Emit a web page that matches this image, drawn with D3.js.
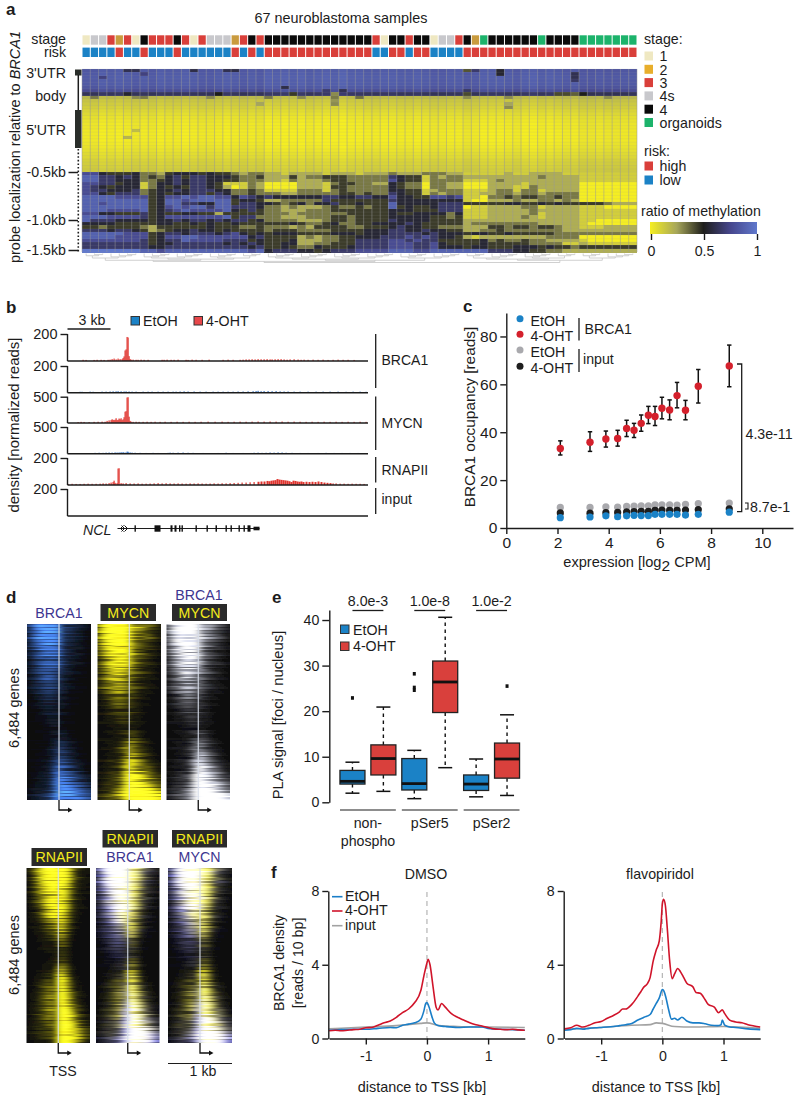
<!DOCTYPE html>
<html><head><meta charset="utf-8">
<script src="https://cdn.jsdelivr.net/npm/d3@7/dist/d3.min.js"></script>
<style>html,body{margin:0;padding:0;background:#fff}svg{display:block}text{font-family:"Liberation Sans",Arial,sans-serif;fill:#1c1c1c}</style>
</head><body><div id="c"></div>
<script>
// ---------- panel a data ----------
const stageCols=["1","4s","4s","3","2","3","1","4","3","3","3","4","3","1","3","4s","4s","4s","2","3","4","3","4","4","4","4","4","4","4","4","4","4","4","4","4","3","1","4","4","3","4","4","1","4s","4s","3","4","2","o","4","4","4","4","4","4","o","4","4","4","4","o","o","o","o","o","o","o"];
const riskCols="LLLLHLLHLLLHLLLLLLHLHLHHHHHHHHHHHHHLLHHLHHLLLLHHHHHHHHHHHHHHHHHHHHH".split("");
const blueRowBase=[.86,.87,.88,.87,.87,.85,.8,.66];
const yellowRowBase=[.17,.13,.11,.09,.07,.05,.03,.02,.01,.01,0,0,0,0,.01,.02,.03,.05,.06,.08,.09,.1,.11];
const colDrift=[.02,.02,0,.01,0,.01,.02,.01,.02,0,.01,.01,0,.01,.02,.02,.01,0,.01,.02,.01,.02,-.01,0,-.01,0,-.01,.01,0,-.01,0,-.02,0,0,.01,.01,0,0,.01,.01,0,.01,.02,.02,.01,.01,.03,.02,0,0,0,.01,.02,0,-.01,.01,0,.01,.02,.01,.03,.03,.02,.03,.03,.02,.02];
const upperExceptions=[[5,0,.62],[6,0,.62],[13,0,.6],[17,0,.62],[18,0,.6],[46,0,.4],[47,0,.68],[50,0,.55],[50,1,.55],[59,1,.62],[59,2,.62],[59,3,.66],[7,1,.72],[2,2,.72],[24,5,.6],[30,7,.3],[25,7,.45],[16,7,.5],[5,7,.55],[46,7,.42],[46,6,.66],[31,6,.62],[29,6,.68],[58,7,.42],[57,7,.42],[59,7,.38],[60,7,.5],[1,8,.33],[6,8,.3],[7,8,.33],[15,8,.3],[22,8,.33],[26,8,.3],[30,8,.33],[33,8,.35],[46,8,.3],[51,8,.3],[63,8,.3],[30,9,.28],[30,10,.3],[21,10,.25],[51,10,.25],[51,11,.3],[6,18,.17],[5,20,.2]];
const lowerRows=[
"7754445 332455545443233 2212222122212 22322233322 11111211222211 1111111",
"8866565 343564665554334 2224233444333 33654413233 22222222232222 1111111",
"8866555 334565665544333 2213222344333 33754413333 11123222222222 1111111",
"7766455 135565665411132 0000222134433 22543303322 00022221222222 0000000",
"7654555 135454665420132 0000222144333 33543303322 00022211322222 0000000",
"7665556 345565666553343 1111333134333 33554412333 11123313312222 0000000",
"7754666 345455664653343 3322333334434 33654413233 11223323323333 0000000",
"8888777 745778788775765 6555555665566 55755447767 11033434433433 0000000",
"8888888 845887888884554 2233333644444 44655555555 10022232233232 0000000",
"8878888 845886655884665 5434535564454 44855555666 44444554454544 4443222",
"8888888 845787886886665 3323222343343 44845445666 01122223312222 1110000",
"8887777 845678777785464 3322233344444 44555444666 11122222322222 1111111",
"7755444 645445544244444 3332333333444 44544555535 11122222312222 1111111",
"8887777 645777777784663 3322233344344 44555554434 11122223212222 1111111",
"8666555 545565665656645 3333222344344 44655554444 22222222222222 1100000",
"5555444 445544545445444 4445433453344 55556544444 23333333322222 1000000",
"4434444 324444445444334 3332324444334 44565544333 22244344344322 1112222",
"6665665 423455655454444 3444333344445 55665565544 22334333333322 2222222",
"8888877 745665666567545 4555444455545 55666656555 45544544444333 3333333",
"8888777 745778877777756 4444232334455 56667676554 21222222223333 0000000",
"7777777 645668777766645 4445222334466 66776766444 44534334332222 1000000",
"6666666 645566666656565 4455223344466 66777667544 44544444333311 2111111",
"6666666 655666666666656 4454335444566 66777667555 45544455545443 4444444",
"9999999 887888888888878 5666554566677 77888778888 88866655443322 2222222"];
const dendroTree=[[[[3,4],[[4,4],[4,3]]],[[[4,4],[4,4]],[4,4]]],[[[3,4],[4,3]],[3,4]]];
const stageLegend=[["1","1"],["2","2"],["3","3"],["4s","4s"],["4","4"],["organoids","o"]];
const colorbarTicks=[0,.5,1];
// ---------- panel b data ----------
const trackLabels=["200","200","500","500","200","200"];
const trackMax=[200,200,500,500,200,200];
const brcaOhtPos=[15,18,26,29,33,36,40,42,44,46,48,50,52,54,55,56,57,58,59,60,61,62,63,65,68,70,73,76,80,94,96,99,103,106,110,118,120,124,128,134,141,155,160,165,172,175,178,181,184,187,190,193,196,199,202,204,207,210,213,216,219,222,226,230,233,236,240,245,250,255,260,265,270,275,280,286];
const brcaOhtVal=[9,8,8,9,9,8,9,10,14,18,12,18,14,14,22,34,78,86,178,174,36,14,10,10,9,9,10,9,9,9,9,10,9,9,10,9,8,10,9,9,10,9,10,9,9,10,12,12,13,12,14,13,13,14,12,12,13,14,14,12,10,12,13,11,9,10,9,10,9,10,8,9,10,9,9,8];
const brcaEtohPos=[12,14,22,25,34,38,42,45,48,50,53,56,58,61,64,68,75,80,84,90,95,100,105,108,112,116,120,126,132,138,145,150,155,160,165,170,175,180,185,188,190,193,196,200,204,208,212,216,220,226,232,240,248,255,262,270,278,285,292,298];
const brcaEtohVal=[7,7,8,7,8,8,9,10,10,11,10,9,10,9,8,8,8,8,8,8,8,8,8,8,9,10,9,9,8,8,8,8,8,8,8,9,9,10,11,12,14,11,12,12,11,12,10,9,9,8,8,8,8,8,8,8,7,8,8,7];
const mycnOhtPos=[10,13,16,21,26,30,34,37,39,41,43,44,45,46,47,48,49,50,51,52,53,54,55,56,57,58,59,60,61,62,63,65,68,71,75,79,83,87,92,97,103,109,115,121,127,133,140,147,154,160,166,172,178,184,190,196,202,208,214,220,226,232,238,244,250,256,262,268,274,280,286,292,298];
const mycnOhtVal=[18,22,20,18,22,24,26,24,40,50,55,70,60,55,62,90,55,60,85,70,90,55,70,110,215,225,485,490,120,40,26,22,24,22,22,24,22,24,22,24,22,24,22,24,22,24,26,24,26,22,24,26,24,26,28,26,28,26,28,24,26,24,22,24,22,24,22,24,22,24,22,24,22];
const mycnEtohPos=[27,31,35,38,41,44,47,49,51,53,55,57,59,60,62,64,67,72,78,85,90,100,102,105,110,115,120,125,135,150,158,165,175,183,186,190,194,198,202,206,210,214,218,224,232,240,250,258,266,274,282,290];
const mycnEtohVal=[16,18,16,20,22,20,24,22,24,28,30,22,38,36,24,20,18,16,14,16,14,16,20,18,20,22,18,16,14,14,18,14,14,14,18,20,16,18,22,20,24,22,18,16,14,14,14,16,14,14,14,14];
const polPos=[0,4,8,12,16,20,24,28,32,35,38,41,43,45,46,47,49,50,51,53,55,58,62,66,70,74,78,82,86,90,94,98,102,106,110,114,118,122,126,130,134,138,142,146,150,154,158,162,166,170,174,178,182,186,190,193,196,199,201,203,205,207,209,211,213,215,217,219,221,223,225,227,229,231,233,235,238,241,244,247,250,253,256,259,262,265,268,272,276,280,284,288,292,296];
const polVal=[8,9,8,8,9,10,9,9,10,12,11,14,18,22,32,16,14,122,124,14,12,14,12,11,12,10,10,11,12,14,12,13,12,11,12,11,10,12,11,12,11,10,11,12,11,13,12,14,15,16,18,18,20,22,24,26,26,30,28,32,34,36,44,40,38,36,34,32,28,22,32,30,26,24,26,22,24,22,24,22,26,22,18,16,14,12,12,10,10,9,10,9,9,8];
const geneExons=[[67,68.2],[87,93],[103,105],[107,109],[111.5,112.5],[114,115],[128,129],[139,140],[148,149.5],[158,159],[163,164],[171,172],[176,177],[180,183]];
const geneChevrons=[[53,-1],[57,1],[60,1]];
// ---------- panel c data ----------
const exprX=[2.11,3.27,3.89,4.35,4.70,4.99,5.27,5.55,5.81,6.08,6.38,6.67,7.0,7.5,8.71];
const ohtY=[33.2,35.8,37.2,37.4,41.6,40.8,43.7,47.1,46.6,50,49.3,55.3,49.2,59.2,67.7];
const ohtLow=[30.5,32,33.8,34.2,38.2,37.8,40.4,43.6,42.8,45.6,45.2,50.2,45.2,52.2,59];
const ohtHigh=[36.4,40.2,40.5,40.8,45,43.7,47.2,50.8,50.8,54.6,53.5,60.8,53.3,66.2,76.4];
const inputEtohY=[8.6,8.6,8.8,8.7,9,9.1,9.3,9.3,9.7,9.7,9.7,9.6,9.9,10.2,10.4];
const inputOhtY=[6.3,6.2,6.4,6.5,6.7,6.8,7,7,7.4,7.5,7.4,7.4,7.5,7.7,8];
const etohY=[4.3,4.6,5.1,4.7,5.1,5.3,5.2,5.2,5.7,5.7,5.7,5.7,5.4,5.7,6.6];
// ---------- panel d data ----------
const chipMatrix=["4689999954443321","3589999965543221","4679998954432211","2578989864433211","4689999965443321","3477888854332211","2568898853322110","3567887764432211","3468888853322211","2456777753321110","3467887864332211","2356677743322110","1345676653221100","2457777754322211","2346666643221110","1345666543211100","2345665543322110","1234565432211100","2345665443221110","1234555432111000","1233454432211100","2344555433221110","1223444332111000","1234454332111100","0122343322110000","1123343322111000","0112333221100000","1122333222111000","0112232221100000","0011222211100000","1112232322110000","0011122211100000","0011122211100000","1111122221110000","0001112211100000","0000111111000000","0011112222110000","0001112232110000","0000111122100000","1111112333211000","0011112343221100","0001112343211000","0111123443221100","0001122454321100","0011122455332110","0001112454321100","1112123565432110","0011123565432211","0111223676543211","0011123675433211","1112223777654321","0112233787654322","1122234888765432","0112233887654332","1122234899876543","0122234899876543","1222345999987654","1122345999988765","2233456999998876","1223345999999876"];
const polMatrix=["1246899979743211","1246789989632111","0135789979632110","1247899989743211","1246788878632111","0135678879522110","1235679978632111","0124678878532110","1235688879532111","0124567768421100","0123578878532110","1134577877421100","0123467767421100","0123467777421110","0112356766321000","0123467676321100","0112356666321000","0112345565311000","0111345565321100","0011234465210000","0111234475321000","0011233365210000","0011123354210000","0001122254110000","0001112243110000","0001111133100000","0000111133100000","0001111122100000","0000011122100000","0000000122100000","0000001122100000","0000001133100000","0000011133100000","0000111144110000","0000111154210000","0001112165210000","0001122275210000","0011122276311000","0011233176311000","0012233286421100","0112334287421100","0011234287411100","0012344288532100","0112345298532110","0112345299632110","0012344298532100","0112345299642110","0112345299743110","0122345299743210","0112234299853210","1123345299864321","0112344299853211","0112233299964321","0122234299975321","1122234399975432","0112223299976432","1122233399986432","0112223299976432","0112223399986532","0011112299976421"];
const streakRows=[
"594736281957364829163758294617385926471839265748193627485913627948516372849156372948163759284617395826471938256174839265",
"372859164738291657483926175849362718594637281956473829164758392617485936271859463728195647382916475839261748593627185946",
"816374925186374029581736492851746392058174639285017463928501746392851074639258107463925810746392581074639281507463928150",
"259483716092584371609258437160925843716092584371629058437162905843716290584371629058473162905847316290584731629058473162"];
// ---------- panel e data ----------
const boxKeys=["non-E","non-O","s5-E","s5-O","s2-E","s2-O"];
const boxLow=[2,2.4,.8,7.6,1.2,1.5];
const boxQ1=[4,6,2.7,19.7,2.6,5.3];
const boxMed=[4.6,9.6,4.1,26.4,4,9.5];
const boxQ3=[7,12.6,9.6,31,6,13];
const boxHigh=[8.8,20.9,11.4,40.6,9.5,19.2];
const boxOutliers=[[22.9],[],[28.2,25.2,24.6],[],[],[25.5]];
const boxGroups=["non-","pSer5","pSer2"];
const boxPvalues=["8.0e-3","1.0e-8","1.0e-2"];
// ---------- panel f data ----------
const dmsoOhtX=[-1.6,-1.5,-1.4,-1.3,-1.2,-1.1,-1,-.9,-.8,-.7,-.6,-.5,-.4,-.3,-.2,-.1,-.05,0,.02,.05,.1,.15,.18,.24,.3,.4,.5,.6,.7,.8,.9,1,1.1,1.2,1.3,1.4,1.5,1.6];
const dmsoOhtY=[.42,.45,.42,.45,.48,.5,.58,.6,.72,.85,.95,1.15,1.4,1.6,1.95,2.6,3.4,4.1,4.3,4,2.8,1.7,1.55,1.9,1.7,1.35,1.15,1,.85,.75,.68,.6,.52,.5,.48,.5,.47,.45];
const dmsoEtohX=[-1.6,-1.4,-1.2,-1,-.8,-.6,-.5,-.4,-.3,-.2,-.1,-.05,-.02,0,.03,.08,.12,.18,.3,.5,.7,.9,1,1.2,1.4,1.6];
const dmsoEtohY=[.45,.48,.5,.5,.55,.6,.58,.72,.78,.85,1.05,1.5,1.9,1.95,1.75,1.2,.85,.7,.65,.6,.62,.62,.55,.5,.48,.45];
const dmsoInputX=[-1.6,-1,-.5,-.1,0,.2,.5,1,1.6];
const dmsoInputY=[.52,.62,.7,.82,.85,.7,.65,.62,.6];
const flavoOhtX=[-1.6,-1.5,-1.4,-1.3,-1.2,-1.1,-1,-.9,-.8,-.7,-.65,-.6,-.5,-.4,-.35,-.3,-.25,-.2,-.15,-.1,-.05,-.02,0,.02,.05,.08,.12,.16,.2,.25,.3,.35,.4,.5,.55,.62,.7,.75,.85,.92,.98,1.02,1.1,1.2,1.3,1.4,1.5,1.6];
const flavoOhtY=[.52,.58,.72,.62,.72,.85,.92,1.1,1.25,1.45,1.6,1.6,1.85,2.3,2.55,2.8,2.95,3.3,4.2,4.8,5.3,6.3,7.3,7.55,7.2,6,4.2,3.25,3.5,3.8,3.6,3.3,3,2.8,2.5,2.45,2.1,1.85,1.7,1.4,1.55,1.35,1,.9,.85,.75,.68,.62];
const flavoEtohX=[-1.6,-1.5,-1.4,-1.3,-1.2,-1.1,-1,-.9,-.8,-.7,-.6,-.5,-.4,-.3,-.2,-.15,-.1,-.05,0,.02,.06,.1,.15,.2,.25,.32,.4,.5,.6,.7,.8,.9,.96,.98,1.02,1.1,1.2,1.4,1.6];
const flavoEtohY=[.45,.48,.55,.5,.55,.58,.6,.62,.65,.7,.75,.82,1,1.15,1.3,1.6,1.9,2.2,2.65,2.6,2.2,1.6,1.05,1.1,1,1.15,.95,.85,.85,.8,.72,.7,.75,1,.72,.62,.6,.52,.48];
const flavoInputX=[-1.6,-1,-.5,-.2,-.1,0,.2,.5,1,1.6];
const flavoInputY=[.5,.6,.72,.75,.85,.82,.65,.62,.65,.55];

// ---------- colours ----------
const RED="#d9403c",BLUE="#1b82c6",INK="#1c1c1c";
const stageColor={"1":"#efe8c2","2":"#c99b3e","3":"#d93f3a","4s":"#c8c8cc","4":"#0a0a0a","o":"#1cb36b"};
const riskColor={H:"#d93f3a",L:"#1b82c6"};
const stageLegendColor={"1":"#efe8c2","2":"#e8ae2c","3":"#d93f3a","4s":"#c8c8cc","4":"#0a0a0a","o":"#1cb36b"};
const meth=d3.scaleLinear().domain([0,.25,.5,.75,1]).range(["#f5ee22","#a6a65a","#1e1e1c","#46468c","#6078cc"]).clamp(true);

const svg=d3.select("#c").append("svg").attr("width",800).attr("height",1101).attr("viewBox","0 0 800 1101");
const defs=svg.append("defs");
function T(x,y,s,o={}){
  const t=svg.append("text").attr("x",x).attr("y",y).attr("dy",".35em").text(s)
   .attr("font-size",o.size||14.2).attr("text-anchor",o.anchor||"start");
  if(o.fill)t.style("fill",o.fill);
  if(o.weight)t.attr("font-weight",o.weight);
  if(o.italic)t.attr("font-style","italic");
  if(o.rot!=null)t.attr("transform",`rotate(${o.rot} ${x} ${y})`);
  return t;
}
function L(x1,y1,x2,y2,w=1.3,c=INK,dash){
  const l=svg.append("line").attr("x1",x1).attr("y1",y1).attr("x2",x2).attr("y2",y2).attr("stroke",c).attr("stroke-width",w);
  if(dash)l.attr("stroke-dasharray",dash);return l;
}
function styleAxis(g,size=14.2){
  g.selectAll("path,line").attr("stroke",INK).attr("stroke-width",1.4);
  g.selectAll("text").attr("font-size",size).attr("font-family",'"Liberation Sans",Arial,sans-serif').style("fill",INK);
}
function Letter(x,y,s){svg.append("text").attr("x",x).attr("y",y).text(s).attr("font-size",17).attr("font-weight","bold");}

// ========== PANEL A ==========
Letter(6,15,"a");
T(341,18,"67 neuroblastoma samples",{anchor:"middle",size:14.4});
const colX=d3.scaleBand().domain(d3.range(67)).range([82,637]);
const annotH=9.4;
[[35.3,stageCols,stageColor],[47.6,riskCols,riskColor]].forEach(([y,arr,cm])=>{
  svg.append("g").selectAll("rect").data(arr).join("rect")
   .attr("x",(d,i)=>colX(i)+.5).attr("y",y).attr("width",colX.bandwidth()-1).attr("height",annotH)
   .attr("fill",d=>cm[d]);
});
T(66,39.5,"stage",{anchor:"end"});T(66,52,"risk",{anchor:"end"});
const lowerClean=lowerRows.map(r=>r.replace(/ /g,""));
const nRows=blueRowBase.length+yellowRowBase.length+lowerClean.length;
const rowY=d3.scaleBand().domain(d3.range(nRows)).range([69,252]);
const upperBase=blueRowBase.concat(yellowRowBase);
const cells=[];
const excMap=new Map(upperExceptions.map(e=>[e[0]+"_"+e[1],e[2]]));
for(let r=0;r<nRows;r++)for(let c=0;c<67;c++){
  let v;
  if(r<upperBase.length){
    const k=c+"_"+r;
    v=excMap.has(k)?excMap.get(k):upperBase[r]+colDrift[c]*(r<8?-1.2:1);
  }else{
    const s=lowerClean[r-upperBase.length];
    v=(+(s[c]||s[s.length-1]))/9;
  }
  cells.push({r,c,v});
}
svg.append("g").attr("shape-rendering","crispEdges").selectAll("rect").data(cells).join("rect")
 .attr("x",d=>colX(d.c)).attr("y",d=>rowY(d.r)).attr("width",colX.bandwidth()).attr("height",rowY.bandwidth()+.5)
 .attr("fill",d=>meth(d.v));
svg.append("g").selectAll("line").data(d3.range(68)).join("line")
 .attr("x1",i=>82+i*colX.bandwidth()).attr("x2",i=>82+i*colX.bandwidth()).attr("y1",69).attr("y2",252)
 .attr("stroke","#9a9a9a").attr("stroke-opacity",.55).attr("stroke-width",.9);
svg.append("g").selectAll("line").data(d3.range(nRows+1)).join("line")
 .attr("x1",82).attr("x2",637).attr("y1",i=>69+i*rowY.bandwidth()).attr("y2",i=>69+i*rowY.bandwidth())
 .attr("stroke","#9a9a9a").attr("stroke-opacity",.22).attr("stroke-width",.6);
const expand=d=>typeof d==="number"?(d>1?[1,d-1]:null):d;
const droot=d3.hierarchy(dendroTree,expand);
let leafI=0;droot.eachAfter(n=>{ if(!n.children){n.px=colX(leafI++)+colX.bandwidth()/2;} else n.px=d3.mean(n.children,k=>k.px);});
const dY=d3.scaleLinear().domain([0,droot.height]).range([253.5,262.5]);
const dSeg=[];droot.each(n=>{if(n.children){n.children.forEach(k=>dSeg.push(`M${k.px},${dY(k.height)}V${dY(n.height)}H${n.px}`));}});
svg.append("g").selectAll("path").data(dSeg).join("path").attr("d",d=>d).attr("fill","none").attr("stroke","#c4c4c4").attr("stroke-width",.8);
svg.append("rect").attr("x",75).attr("y",69.5).attr("width",6.5).attr("height",6).attr("fill","#2a2e2a");
svg.append("rect").attr("x",75).attr("y",110).attr("width",6.5).attr("height",38).attr("fill","#2a2e2a");
L(78.3,75,78.3,110,1.5);
L(78.3,149,78.3,252,1.6,INK,"1.6 2");
const gLabels=[["3'UTR",73],["body",96],["5'UTR",130],["-0.5kb",172.5],["-1.0kb",220.5],["-1.5kb",250.5]];
gLabels.forEach(d=>T(66,d[1],d[0],{anchor:"end"}));
[172.5,220.5,250.5].forEach(y=>L(68.5,y,78,y,1.5));
const yt=svg.append("text").attr("transform","translate(15,147) rotate(-90)").attr("text-anchor","middle").attr("dy",".35em").attr("font-size",14.5);
yt.append("tspan").text("probe localization relative to ");yt.append("tspan").attr("font-style","italic").text("BRCA1");
T(644,39,"stage:");
const legY=d3.scalePoint().domain(stageLegend.map(d=>d[1])).range([56,122.5]);
stageLegend.forEach(d=>{
  svg.append("rect").attr("x",644.5).attr("y",legY(d[1])-4.5).attr("width",8.5).attr("height",9).attr("fill",stageLegendColor[d[1]]);
  T(659.5,legY(d[1])+.5,d[0]);
});
T(644,151,"risk:");
[["high","H",166],["low","L",180]].forEach(d=>{
  svg.append("rect").attr("x",644.5).attr("y",d[2]-4.5).attr("width",8.5).attr("height",9).attr("fill",riskColor[d[1]]);
  T(659.5,d[2],d[0]);
});
T(641,211,"ratio of methylation");
const cbX=d3.scaleLinear().domain([0,1]).range([651,757]);
defs.append("linearGradient").attr("id","cb").selectAll("stop").data(d3.range(0,1.01,.05)).join("stop")
 .attr("offset",d=>d).attr("stop-color",d=>meth(d));
svg.append("rect").attr("x",650).attr("y",222).attr("width",107).attr("height",12).attr("fill","url(#cb)");
const cbAxis=svg.append("g").attr("transform","translate(0,234)").call(d3.axisBottom(cbX).tickValues(colorbarTicks).tickSize(6).tickFormat(d=>d));
cbAxis.select("path").remove();styleAxis(cbAxis);cbAxis.selectAll("text").attr("dy",".9em");

// ========== PANEL B ==========
Letter(6,312.5,"b");
const tx=d3.scaleLinear().domain([0,300]).range([67.5,367.5]);
const tracks=[[334,361],[366,392.7],[396.7,423],[427,453.7],[458,485],[489,516]];
const trackData=[[brcaOhtPos,brcaOhtVal,"#e0342e"],[brcaEtohPos,brcaEtohVal,"#2a6cc0"],[mycnOhtPos,mycnOhtVal,"#e0342e"],[mycnEtohPos,mycnEtohVal,"#2a6cc0"],[polPos,polVal,"#e0342e"],[[],[],"#e0342e"]];
tracks.forEach((t,i)=>{
  const y=d3.scaleLinear().domain([0,trackMax[i]]).range([t[1],t[0]]);
  const [pos,val,col]=trackData[i];
  svg.append("g").selectAll("rect").data(pos).join("rect")
   .attr("x",d=>tx(d)).attr("width",d=>(d>=190&&d<=262&&i==4)?2:1.2).attr("y",(d,k)=>y(val[k])).attr("height",(d,k)=>t[1]-y(val[k])).attr("fill",col);
  const ax=svg.append("g").attr("transform","translate(67.5,0)").call(d3.axisLeft(y).tickValues([trackMax[i]]).tickSize(7).tickSizeOuter(0).tickFormat(()=>trackLabels[i]));
  styleAxis(ax,14.5);
  ax.select(".domain").attr("d",`M0,${t[0]}V${t[1]}`);
  L(67.5,t[1],368,t[1],1.5);
});
L(67.5,329,110.5,329,1.3);
T(92,320.5,"3 kb",{anchor:"middle"});
[[131,"EtOH",143,BLUE],[194,"4-OHT",206,"#e8474a"]].forEach(d=>{
  svg.append("rect").attr("x",d[0]).attr("y",316.5).attr("width",8.5).attr("height",8.5).attr("fill",d[3]).attr("stroke","#333").attr("stroke-width",1);
  T(d[2],321,d[1]);
});
[[334,388,"BRCA1",360],[396.5,450,"MYCN",423],[457,482.5,"RNAPII",470],[488,514,"input",499.5]].forEach(d=>{
  L(375.7,d[0],375.7,d[1],1.3);T(381.5,d[3],d[2],{size:14});
});
T(14,425,"density [normalized reads]",{anchor:"middle",rot:-90,size:15});
T(83,530,"NCL",{italic:true});
const geneY=528.5;
L(tx(50),geneY,tx(192),geneY,1.2);
svg.append("g").selectAll("rect").data(geneExons).join("rect")
 .attr("x",d=>tx(d[0])).attr("width",d=>Math.max(1.4,tx(d[1])-tx(d[0]))).attr("y",geneY-3.2).attr("height",6.4).attr("fill","#111");
svg.append("rect").attr("x",tx(186)).attr("width",tx(192)-tx(186)).attr("y",geneY-1.8).attr("height",3.6).attr("fill","#111");
svg.append("g").selectAll("path").data(geneChevrons).join("path")
 .attr("d",d=>`M${tx(d[0])-d[1]*3},${geneY-3}L${tx(d[0])},${geneY}L${tx(d[0])-d[1]*3},${geneY+3}`)
 .attr("fill","none").attr("stroke","#111").attr("stroke-width",1);

// ========== PANEL C ==========
Letter(463,311.5,"c");
const cx=d3.scaleLinear().domain([0,11.2]).range([506.3,793]);
const cy=d3.scaleLinear().domain([0,89.8]).range([528,313]);
const cxA=svg.append("g").attr("transform","translate(0,528)").call(d3.axisBottom(cx).tickValues([0,2,4,6,8,10]).tickSize(6).tickSizeOuter(0));
const cyA=svg.append("g").attr("transform","translate(506.3,0)").call(d3.axisLeft(cy).tickValues([0,20,40,60,80]).tickSize(6).tickSizeOuter(0));
styleAxis(cxA,15.5);styleAxis(cyA,15.5);
const cSeries=[[inputEtohY,"#a9a9ad"],[inputOhtY,"#1e1e1e"],[etohY,BLUE]];
svg.append("g").selectAll("g").data(exprX).join("g").each(function(d,i){
  const g=d3.select(this);
  g.append("line").attr("x1",cx(d)).attr("x2",cx(d)).attr("y1",cy(ohtLow[i])).attr("y2",cy(ohtHigh[i])).attr("stroke","#111").attr("stroke-width",1.5);
  [ohtLow[i],ohtHigh[i]].forEach(v=>g.append("line").attr("x1",cx(d)-2.2).attr("x2",cx(d)+2.2).attr("y1",cy(v)).attr("y2",cy(v)).attr("stroke","#111").attr("stroke-width",1.5));
});
cSeries.forEach(s=>{
  svg.append("g").selectAll("circle").data(exprX).join("circle").attr("cx",d=>cx(d)).attr("cy",(d,i)=>cy(s[0][i])).attr("r",3.6).attr("fill",s[1]);
});
svg.append("g").selectAll("circle").data(exprX).join("circle").attr("cx",d=>cx(d)).attr("cy",(d,i)=>cy(ohtY[i])).attr("r",3.7).attr("fill","#d4202c");
[[318.7,BLUE,"EtOH"],[334.3,"#d4202c","4-OHT"],[350,"#a9a9ad","EtOH"],[366.3,"#1e1e1e","4-OHT"]].forEach(d=>{
  svg.append("circle").attr("cx",520).attr("cy",d[0]).attr("r",3.5).attr("fill",d[1]);
  T(530.5,d[0]+2,d[2],{size:14.2});
});
L(579,318,579,340.5,1.3);L(579,349,579,372,1.3);
T(584.5,329,"BRCA1");T(583,359.5,"input");
svg.append("path").attr("d","M737,364H741.7V511.7H737").attr("fill","none").attr("stroke",INK).attr("stroke-width",1.3);
svg.append("path").attr("d","M745,503H748V509H745").attr("fill","none").attr("stroke",INK).attr("stroke-width",1.1);
T(745.5,434,"4.3e-11");T(750,507,"8.7e-1");
T(470,417,"BRCA1 occupancy [reads]",{anchor:"middle",rot:-90,size:15.4});
const cxT=svg.append("text").attr("x",637).attr("y",562).attr("dy",".35em").attr("text-anchor","middle").attr("font-size",14.6);
cxT.append("tspan").text("expression [log");cxT.append("tspan").attr("dy",4).attr("font-size",15.5).text("2");cxT.append("tspan").attr("dy",-4).text(" CPM]");

// ========== PANEL D ==========
Letter(6,602.5,"d");
const hx=d3.scaleBand().domain(d3.range(16));
const hy=d3.scaleBand().domain(d3.range(120));
defs.append("filter").attr("id","hblur").attr("x","-5%").attr("y","-2%").attr("width","110%").attr("height","104%")
 .append("feGaussianBlur").attr("stdDeviation","3 0.45");
function clampRGB(parts){
  let r=10,g=10,b=10;
  parts.forEach(([v,c])=>{r+=v*c[0];g+=v*c[1];b+=v*c[2];});
  return `rgb(${Math.min(255,r)|0},${Math.min(255,g)|0},${Math.min(255,b)|0})`;
}
const YEL=[245,235,20],BLU=[58,112,215],PERI=[112,112,225],WHI=[235,238,255];
const heatPanels=[
 {x:[27,91],y:[624,800],f:(a,p)=>[[a*1.05,BLU]]},
 {x:[97.5,161],y:[624,800],f:(a,p)=>[[a*1.5,YEL]]},
 {x:[166.5,230],y:[624,800],f:(a,p)=>[[a*1.45,WHI]]},
 {x:[26.5,90],y:[868,1043],f:(a,p)=>[[p*1.3,YEL]]},
 {x:[96,159.5],y:[868,1043],f:(a,p)=>[[p*1.15,YEL],[a*1.35,PERI]]},
 {x:[168,232],y:[868,1043],f:(a,p)=>[[p*1.15,YEL],[a*1.25,PERI]]}
];
const gam=v=>Math.pow(v,1.45);
heatPanels.forEach((hp,i)=>{
  const sx=hx.copy().range(hp.x),sy=hy.copy().range(hp.y);
  const id="hc"+i;
  defs.append("clipPath").attr("id",id).append("rect").attr("x",hp.x[0]).attr("y",hp.y[0]).attr("width",hp.x[1]-hp.x[0]).attr("height",hp.y[1]-hp.y[0]);
  const data=[];
  for(let rr=0;rr<120;rr++){
    const r=Math.floor(rr/2);
    for(let c=0;c<16;c++){
      const seg=(Math.floor(c/4)+i)%4;
      const k=.55+.1*(+streakRows[seg][rr]);
      data.push({r:rr,c,a:gam(+chipMatrix[r][c]/9)*k,p:gam(+polMatrix[r][c]/9)*k});
    }
  }
  const g=svg.append("g").attr("clip-path",`url(#${id})`).append("g").attr("filter","url(#hblur)");
  g.selectAll("rect").data(data).join("rect").attr("shape-rendering","crispEdges")
   .attr("x",d=>d.c==0?sx(0)-8:sx(d.c)).attr("y",d=>sy(d.r)).attr("width",d=>sx.bandwidth()+(d.c==0||d.c==15?8:.5)).attr("height",sy.bandwidth()+.5)
   .attr("fill",d=>clampRGB(hp.f(d.a,d.p)));
  const cxm=(hp.x[0]+hp.x[1])/2;
  L(cxm,hp.y[0],cxm,hp.y[1],1.1,"#d8dfea");
  const yb=hp.y[1];
  svg.append("path").attr("d",`M${cxm},${yb}V${yb+10}H${cxm+10}`).attr("fill","none").attr("stroke","#111").attr("stroke-width",1.3);
  svg.append("path").attr("d",`M${cxm+9},${yb+7.6}L${cxm+13.5},${yb+10}L${cxm+9},${yb+12.4}Z`).attr("fill","#111");
});
function darkLabel(x0,x1,y0,y1,s){
  svg.append("rect").attr("x",x0).attr("y",y0).attr("width",x1-x0).attr("height",y1-y0).attr("fill","#2a2a2a");
  T((x0+x1)/2,(y0+y1)/2+.5,s,{anchor:"middle",fill:"#f4ec1c",size:14.2});
}
const PUR="#3d3590";
T(59,613,"BRCA1",{anchor:"middle",fill:PUR});
darkLabel(100.5,156,604,621,"MYCN");
T(199,595,"BRCA1",{anchor:"middle",fill:PUR});
darkLabel(172,227,604,621,"MYCN");
darkLabel(31.5,87,848,866,"RNAPII");
darkLabel(102.5,158,830,847.5,"RNAPII");
T(130,857,"BRCA1",{anchor:"middle",fill:PUR});
darkLabel(172,227,830,847.5,"RNAPII");
T(199.5,857,"MYCN",{anchor:"middle",fill:PUR});
T(14,708,"6,484 genes",{anchor:"middle",rot:-90,size:14.5});
T(14,955,"6,484 genes",{anchor:"middle",rot:-90,size:14.5});
T(63,1071,"TSS",{anchor:"middle"});
L(168,1063.5,232,1063.5,1.2);
T(203,1071.5,"1 kb",{anchor:"middle"});

// ========== PANEL E ==========
Letter(272,602.5,"e");
const ex=d3.scaleBand().domain(boxKeys).range([337,522.5]);
const ey=d3.scaleLinear().domain([0,42.2]).range([802.3,610]);
const eyA=svg.append("g").attr("transform","translate(329.3,0)").call(d3.axisLeft(ey).tickValues([0,10,20,30,40]).tickSize(7).tickSizeOuter(0));
styleAxis(eyA,14.2);
const boxW=25,capW=14;
svg.append("g").selectAll("g").data(boxKeys).join("g").each(function(k,i){
  const g=d3.select(this),c=ex(k)+ex.bandwidth()/2;
  const col=i%2?RED:BLUE;
  g.append("line").attr("x1",c).attr("x2",c).attr("y1",ey(boxQ3[i])).attr("y2",ey(boxHigh[i])).attr("stroke","#111").attr("stroke-width",1.4).attr("stroke-dasharray","3.5 3.5");
  g.append("line").attr("x1",c).attr("x2",c).attr("y1",ey(boxQ1[i])).attr("y2",ey(boxLow[i])).attr("stroke","#111").attr("stroke-width",1.4).attr("stroke-dasharray","3.5 3.5");
  [boxLow[i],boxHigh[i]].forEach(v=>g.append("line").attr("x1",c-capW/2).attr("x2",c+capW/2).attr("y1",ey(v)).attr("y2",ey(v)).attr("stroke","#111").attr("stroke-width",1.5));
  g.append("rect").attr("x",c-boxW/2).attr("width",boxW).attr("y",ey(boxQ3[i])).attr("height",ey(boxQ1[i])-ey(boxQ3[i])).attr("fill",col).attr("stroke","#222").attr("stroke-width",1.3);
  g.append("line").attr("x1",c-boxW/2).attr("x2",c+boxW/2).attr("y1",ey(boxMed[i])).attr("y2",ey(boxMed[i])).attr("stroke","#111").attr("stroke-width",2.8);
  boxOutliers[i].forEach(v=>g.append("rect").attr("x",c-1.5).attr("y",ey(v)-1.8).attr("width",3).attr("height",3.6).attr("fill","#111"));
});
boxGroups.forEach((s,i)=>{
  const a=ex(boxKeys[i*2])+3,b=ex(boxKeys[i*2+1])+ex.bandwidth()-3;
  L(a,810,b,810,1.2);
  T((a+b)/2,823,s,{anchor:"middle"});
  const ca=ex(boxKeys[i*2])+ex.bandwidth()/2,cb=ex(boxKeys[i*2+1])+ex.bandwidth()/2;
  L(ca,610.5,cb,610.5,1.3);
  T((ca+cb)/2,601.5,boxPvalues[i],{anchor:"middle"});
});
T(368,841.5,"phospho",{anchor:"middle"});
[[625,BLUE,"EtOH",630],[642,RED,"4-OHT",646.5]].forEach(d=>{
  svg.append("rect").attr("x",340.5).attr("y",d[0]).attr("width",8.5).attr("height",8.5).attr("fill",d[1]).attr("stroke","#333").attr("stroke-width",1);
  T(353,d[3],d[2]);
});
T(278,715,"PLA signal [foci / nucleus]",{anchor:"middle",rot:-90,size:14.8});

// ========== PANEL F ==========
Letter(271,878,"f");
function profile(x0,title,titleX,xtitleX,series){
  const px=d3.scaleLinear().domain([-1.6,1.6]).range([x0+.8,x0+196.5]);
  const py=d3.scaleLinear().domain([0,8]).range([1038.5,891]);
  L(px(0),892,px(0),1038,1.2,"#b5b5b5","5 4");
  series.forEach(s=>{
    svg.append("path").attr("d",d3.line().x((d,i)=>px(s[0][i])).y((d,i)=>py(s[1][i])).curve(d3.curveMonotoneX)(s[0]))
     .attr("fill","none").attr("stroke",s[2]).attr("stroke-width",1.6);
  });
  const a=svg.append("g").attr("transform","translate(0,1038.5)").call(d3.axisBottom(px).tickValues([-1,0,1]).tickSize(6).tickSizeOuter(0).tickFormat(d=>d));
  const b=svg.append("g").attr("transform",`translate(${x0},0)`).call(d3.axisLeft(py).tickValues([0,4,8]).tickSize(6).tickSizeOuter(0));
  styleAxis(a);styleAxis(b);
  a.selectAll("text").attr("dy",".95em");
  T(titleX,874,title,{anchor:"middle"});
  T(xtitleX,1087,"distance to TSS [kb]",{anchor:"middle",size:14.4});
}
const FR="#d0142a",FB="#1a7ec8",FG="#a2a2a2";
profile(328.3,"DMSO",426,422,[[dmsoInputX,dmsoInputY,FG],[dmsoEtohX,dmsoEtohY,FB],[dmsoOhtX,dmsoOhtY,FR]]);
profile(563.7,"flavopiridol",660,656,[[flavoInputX,flavoInputY,FG],[flavoEtohX,flavoEtohY,FB],[flavoOhtX,flavoOhtY,FR]]);
[[896.7,FB,"EtOH"],[911,FR,"4-OHT"],[925.7,FG,"input"]].forEach(d=>{
  L(332,d[0],342.5,d[0],1.6,d[1]);T(345,d[0]-.5,d[2]);
});
T(279,963,"BRCA1 density",{anchor:"middle",rot:-90});
T(298,963,"[reads / 10 bp]",{anchor:"middle",rot:-90});
</script></body></html>
